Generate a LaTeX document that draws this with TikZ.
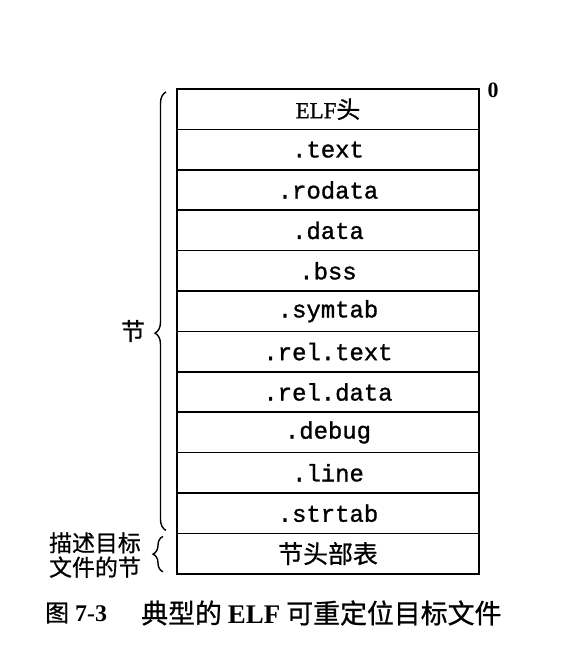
\documentclass[tikz,border=0pt]{standalone}
\usepackage{fontspec}
\setmainfont{Liberation Serif}
\setmonofont[FakeBold=1.2]{Liberation Mono}
\newfontfamily\cjk[FakeBold=0.8]{Noto Sans CJK SC}
\newfontfamily\serifheavy[FakeBold=1.0]{Liberation Serif}
\usetikzlibrary{decorations.pathreplacing}
\begin{document}
\begin{tikzpicture}[x=1bp,y=1bp,
  seg/.style={draw, line width=1.5bp, minimum width=302bp, minimum height=40.4bp,
    inner sep=0pt, outer sep=0pt, anchor=north,
    font=\fontsize{24}{24}\selectfont\ttfamily},
  hdr/.style={seg, font=\fontsize{23}{23}\selectfont\serifheavy},
  cn/.style={seg, font=\fontsize{25}{25}\selectfont\cjk},
  grp/.style={decorate, line width=1.4bp},
  lbl/.style={inner sep=0pt, align=right, font=\fontsize{23}{24.5}\selectfont\cjk},
  captext/.style={inner sep=0pt, anchor=west}
]
\useasboundingbox (0,0) rectangle (574,-654);

% section stack of the object file
\node[hdr] (r1)  at (328,-89)   {ELF{\cjk\fontsize{24}{24}\selectfont 头}};
\node[seg] (r2)  at (r1.south)  {.text};
\node[seg] (r3)  at (r2.south)  {.rodata};
\node[seg] (r4)  at (r3.south)  {.data};
\node[seg] (r5)  at (r4.south)  {.bss};
\node[seg] (r6)  at (r5.south)  {.symtab};
\node[seg] (r7)  at (r6.south)  {.rel.text};
\node[seg] (r8)  at (r7.south)  {.rel.data};
\node[seg] (r9)  at (r8.south)  {.debug};
\node[seg] (r10) at (r9.south)  {.line};
\node[seg] (r11) at (r10.south) {.strtab};
\node[cn]  (r12) at (r11.south) {节头部表};

% offset marker
\node[inner sep=0pt, font=\fontsize{22}{22}\selectfont\bfseries] (zero) at (493,-90) {0};

% braces on the left
\draw[grp, decoration={brace, amplitude=11bp, aspect=0.45}]
  ([xshift=-11bp,yshift=3bp]r11.south west) -- ([xshift=-11bp,yshift=-3bp]r1.north west);
\node[inner sep=0pt, font=\fontsize{24}{24}\selectfont\cjk] (sec) at (133,-331) {节};

\draw[grp, decoration={brace, amplitude=10bp}]
  ([xshift=-14bp,yshift=2bp]r12.south west) -- ([xshift=-14bp,yshift=-3bp]r12.north west);
\node[lbl, anchor=east] (shdr) at (141,-555) {描述目标\\文件的节};

% caption
\node[captext, font=\fontsize{24}{24}\selectfont] (fig) at (45,-613) {{\cjk 图} \textbf{7-3}};
\node[captext, font=\fontsize{27}{27}\selectfont\cjk] (title) at (141,-613) {典型的 {\rmfamily\bfseries ELF} 可重定位目标文件};
\end{tikzpicture}
\end{document}
